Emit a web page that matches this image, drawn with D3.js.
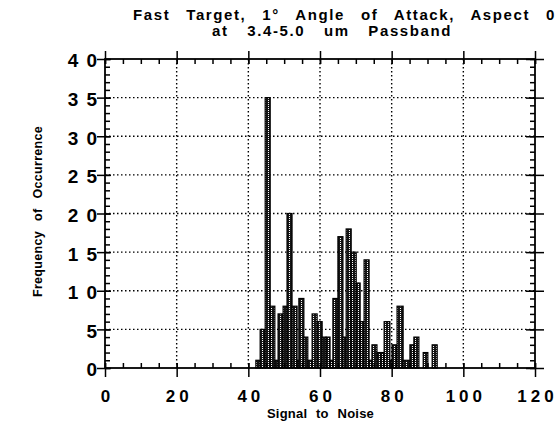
<!DOCTYPE html>
<html>
<head>
<meta charset="utf-8">
<script src="https://cdn.jsdelivr.net/npm/d3@7"></script>
<style>
  body { margin: 0; background: #fff; }
  svg { display: block; font-family: "Liberation Sans", Arial, Helvetica, sans-serif; font-weight: bold; }
</style>
</head>
<body>
<div id="chart"></div>
<script>
// Histogram bins: edges in signal-to-noise units, counts per bin.
const binEdges = [42.1, 43.3, 44.7, 46.1, 47.4, 48.3, 49.7, 50.8, 52.2, 53.6,
                  54.1, 55.5, 56.6, 57.8, 59.2, 60.6, 61.7, 62.8, 63.6, 65.0,
                  66.4, 67.3, 68.7, 70.1, 71.2, 72.3, 73.7, 74.5, 75.9, 77.0,
                  77.9, 79.5, 80.1, 81.5, 83.2, 85.1, 86.2, 87.6, 88.8, 90.1,
                  91.3, 92.7];
const counts = [1, 5, 35, 8, 1, 7, 8, 20, 8, 1,
                9, 4, 1, 7, 6, 4, 4, 1, 9, 17,
                4, 18, 15, 11, 6, 14, 1, 3, 2, 2,
                6, 1, 3, 8, 1, 3, 4, 0, 2, 0,
                3];
const xTicks = [0, 20, 40, 60, 80, 100, 120];
const yTicks = [0, 5, 10, 15, 20, 25, 30, 35, 40];
const xMinor = d3.range(0, 121, 5);
const yMinor = d3.range(0, 41, 1);
const titleLines = ["Fast Target, 1\u00B0 Angle of Attack, Aspect 0", "at 3.4-5.0 um Passband"];
const xLabel = "Signal to Noise";
const yLabel = "Frequency of Occurrence";

const width = 558, height = 427;
const x = d3.scaleLinear().domain([0, 120]).range([105, 535]);
const y = d3.scaleLinear().domain([0, 40]).range([368, 59]);

const svg = d3.select("#chart").append("svg")
    .attr("width", width)
    .attr("height", height);

// stipple fill for the bars
const pat = svg.append("defs").append("pattern")
    .attr("id", "stip")
    .attr("patternUnits", "userSpaceOnUse")
    .attr("width", 3).attr("height", 2);
pat.append("rect").attr("width", 3).attr("height", 2).attr("fill", "#151515");
pat.append("rect").attr("x", 1).attr("width", 1).attr("height", 1).attr("fill", "#fff");

// dotted grid
const grid = svg.append("g")
    .attr("stroke", "#000")
    .attr("stroke-width", 1.4)
    .attr("stroke-dasharray", "1.5,2.5");
grid.selectAll("line.v")
    .data(xTicks.slice(1, -1))
    .enter().append("line")
    .attr("x1", d => x(d)).attr("x2", d => x(d))
    .attr("y1", y(40)).attr("y2", y(0));
grid.selectAll("line.h")
    .data(yTicks.slice(1, -1))
    .enter().append("line")
    .attr("x1", x(0)).attr("x2", x(120))
    .attr("y1", d => y(d)).attr("y2", d => y(d));

// bars
const bins = counts.map((c, i) => ({x0: binEdges[i], x1: binEdges[i + 1], n: c}))
    .filter(d => d.n > 0);
svg.append("g").selectAll("rect")
    .data(bins)
    .enter().append("rect")
    .attr("x", d => x(d.x0))
    .attr("width", d => x(d.x1) - x(d.x0))
    .attr("y", d => y(d.n))
    .attr("height", d => y(0) - y(d.n))
    .attr("fill", "url(#stip)")
    .attr("stroke", "#000")
    .attr("stroke-width", 1.2);

// axes: major ticks cross the frame, minor ticks point inward
function tickAxis(axis, tx, ty) {
  const g = svg.append("g").attr("transform", `translate(${tx},${ty})`).call(axis);
  g.select(".domain").remove();
  g.selectAll(".tick line").attr("stroke", "#000").attr("stroke-width", 1.5);
  return g;
}
const none = () => "";

tickAxis(d3.axisBottom(x).tickValues(xMinor).tickSize(-5).tickFormat(none), 0, y(0));
tickAxis(d3.axisTop(x).tickValues(xMinor).tickSize(-5).tickFormat(none), 0, y(40));
tickAxis(d3.axisLeft(y).tickValues(yMinor).tickSize(-5).tickFormat(none), x(0), 0);
tickAxis(d3.axisRight(y).tickValues(yMinor).tickSize(-5).tickFormat(none), x(120), 0);
tickAxis(d3.axisBottom(x).tickValues(xTicks).tickSize(-5).tickFormat(none), 0, y(0));
tickAxis(d3.axisTop(x).tickValues(xTicks).tickSize(-5).tickFormat(none), 0, y(40));
tickAxis(d3.axisLeft(y).tickValues(yTicks).tickSize(-6).tickFormat(none), x(0), 0);
tickAxis(d3.axisRight(y).tickValues(yTicks).tickSize(-9).tickFormat(none), x(120), 0);
tickAxis(d3.axisTop(x).tickValues(xTicks).tickSize(8).tickFormat(none), 0, y(40));
tickAxis(d3.axisRight(y).tickValues(yTicks).tickSize(9).tickFormat(none), x(120), 0);

const ls = 4;
const xAx = tickAxis(d3.axisBottom(x).tickValues(xTicks).tickSize(9).tickPadding(13), 0, y(0));
xAx.selectAll("text")
    .attr("fill", "#000")
    .style("font-size", "17px")
    .style("letter-spacing", ls + "px")
    .attr("dx", ls / 2);

const lsY = 8;
const yAx = tickAxis(d3.axisLeft(y).tickValues(yTicks).tickSize(8).tickPadding(0), x(0), 0);
yAx.selectAll("text")
    .attr("fill", "#000")
    .style("font-size", "19px")
    .style("letter-spacing", lsY + "px")
    .attr("dx", lsY)
    .attr("dy", "0.42em");

// frame
svg.append("rect")
    .attr("x", x(0)).attr("y", y(40))
    .attr("width", x(120) - x(0)).attr("height", y(0) - y(40))
    .attr("fill", "none").attr("stroke", "#000").attr("stroke-width", 1.8);

// stretch word gaps so a line spans a given width
function spread(sel, target) {
  const words = sel.text().split(" ").length - 1;
  const w = sel.node().getComputedTextLength();
  if (words > 0) sel.style("word-spacing", Math.max(0, (target - w) / words) + "px");
}

const t1 = svg.append("text").attr("x", 133).attr("y", 20)
    .style("font-size", "15px").style("letter-spacing", "1.6px")
    .text(titleLines[0]);
spread(t1, 423);
const t2 = svg.append("text").attr("x", 212).attr("y", 36)
    .style("font-size", "15px").style("letter-spacing", "1.6px")
    .text(titleLines[1]);
spread(t2, 240);

const xl = svg.append("text").attr("x", 267).attr("y", 418)
    .style("font-size", "13px").style("letter-spacing", "0.2px")
    .text(xLabel);
spread(xl, 107);

const yl = svg.append("text")
    .attr("transform", "translate(42,297) rotate(-90)")
    .style("font-size", "12.5px").style("letter-spacing", "0.3px")
    .text(yLabel);
spread(yl, 171);
</script>
</body>
</html>
